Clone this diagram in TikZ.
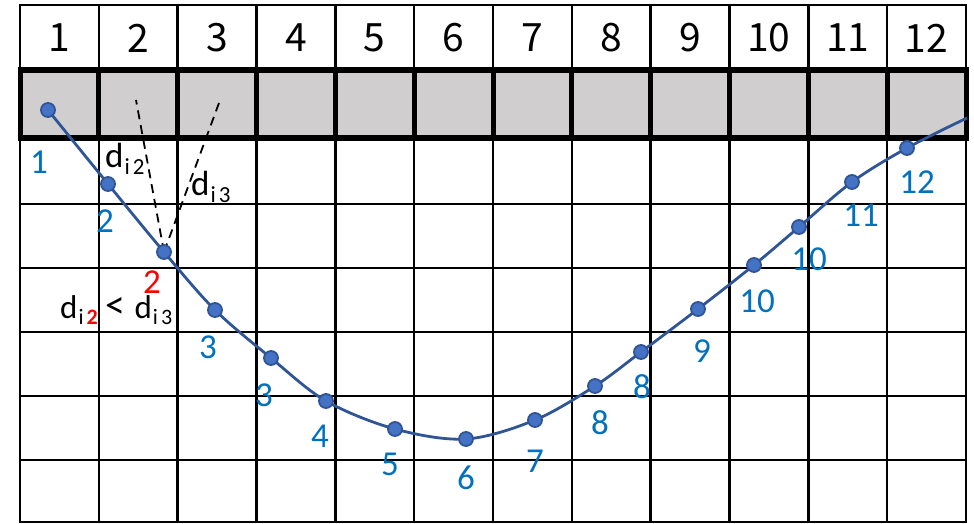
\documentclass[tikz,border=0pt]{standalone}
\usepackage{fontspec}
\setmainfont{Carlito}
\newfontfamily\hdrfont{Noto Sans CJK JP}
\definecolor{cellgray}{HTML}{D0CECE}
\definecolor{curveblue}{HTML}{2F5597}
\definecolor{dotblue}{HTML}{4472C4}
\definecolor{labblue}{HTML}{0070C0}
\begin{document}
\begin{tikzpicture}[x=1pt,y=-1pt,
  gridthin/.style={line width=2.6pt,black},
  gridthick/.style={line width=6pt,black},
  hdr/.style={font=\hdrfont\fontsize{39}{44}\selectfont,inner sep=0pt},
  lab/.style={font=\fontsize{35}{38}\selectfont,text=labblue,inner sep=0pt},
  redlab/.style={font=\fontsize{35}{38}\selectfont,text=red,inner sep=0pt},
  dlab/.style={font=\fontsize{35}{38}\selectfont,inner sep=0pt},
  dot/.style={circle,fill=dotblue,draw=curveblue,line width=1.8pt,minimum size=14pt,inner sep=0pt},
  curve/.style={curveblue,line width=2.8pt},
  guide/.style={black,line width=1.8pt,dash pattern=on 9pt off 6pt}]
\useasboundingbox (0,0) rectangle (974,524);
\def\cw{78.833}
% gray row
\fill[cellgray] (20,70) rectangle (966,138);
% vertical lines
\foreach \i in {0,...,12}{
  \draw[gridthin] ({20+\i*\cw},5) -- ({20+\i*\cw},70);
  \draw[line width=5pt] ({20+\i*\cw},70) -- ({20+\i*\cw},138);
  \draw[gridthin] ({20+\i*\cw},138) -- ({20+\i*\cw},522);
}
% horizontal lines
\foreach \y in {5,204,268,332,396,460,522}{
  \draw[gridthin] (18.7,\y) -- (967.3,\y);
}
\draw[gridthick] (17.5,70) -- (968.5,70);
\draw[gridthick] (17.5,138) -- (968.5,138);
% header numbers
\foreach \i in {1,...,12}{
  \node[hdr] (h\i) at ({20+(\i-0.5)*\cw},38) {\i};
}
% curve points
\coordinate (c1) at (48,110);
\coordinate (c2) at (108,184);
\coordinate (c3) at (164,252);
\coordinate (c4) at (215,310);
\coordinate (c5) at (271,358);
\coordinate (c6) at (326,401);
\coordinate (c7) at (395,429);
\coordinate (c8) at (466,439);
\coordinate (c9) at (535,420);
\coordinate (c10) at (595,386);
\coordinate (c11) at (641,352);
\coordinate (c12) at (698,309);
\coordinate (c13) at (754,265);
\coordinate (c14) at (799,227);
\coordinate (c15) at (852,182);
\coordinate (c16) at (907,148);
\coordinate (cend) at (967,118);
% dashed guides
\coordinate (g2) at (136,100);
\coordinate (g3) at (219,103);
\draw[guide] (c3) -- (g2);
\draw[guide] (c3) -- (g3);
% curve
\draw[curve] plot[smooth,tension=0.55] coordinates {(c1) (c2) (c3) (c4) (c5) (c6) (c7) (c8) (c9) (c10) (c11) (c12) (c13) (c14) (c15) (c16) (cend)};
\foreach \i in {1,...,16}{
  \node[dot] (p\i) at (c\i) {};
}
% blue labels
\node[lab] (l1) at (39,162) {1};
\node[lab] (l2) at (105,221) {2};
\node[redlab] (l3) at (152,282) {2};
\node[lab] (l4) at (208,347) {3};
\node[lab] (l5) at (264,395) {3};
\node[lab] (l6) at (320,436) {4};
\node[lab] (l7) at (390,464) {5};
\node[lab] (l8) at (466,478) {6};
\node[lab] (l9) at (535,461) {7};
\node[lab] (l10) at (600,423) {8};
\node[lab] (l11) at (642,387) {8};
\node[lab] (l12) at (702,351) {9};
\node[lab] (l13) at (757,301) {10};
\node[lab] (l14) at (809,259) {10};
\node[lab] (l15) at (861,215) {11};
\node[lab] (l16) at (917,182) {12};
% distance labels
\node[dlab,anchor=base west] (di2) at (105,167) {d\kern1pt\raisebox{-0.2em}{\fontsize{23}{24}\selectfont i\kern3pt 2}};
\node[dlab,anchor=base west] (di3) at (191,195) {d\kern1pt\raisebox{-0.2em}{\fontsize{23}{24}\selectfont i\kern3pt 3}};
\node[dlab,anchor=base west,font=\fontsize{33}{34}\selectfont] (cmp) at (60,318) {d\kern1pt\raisebox{-0.2em}{\fontsize{22}{22}\selectfont i\kern3pt\textcolor{red}{\bfseries 2}}\kern8pt{\fontsize{40}{40}\selectfont <}\kern9pt d\kern1pt\raisebox{-0.2em}{\fontsize{22}{22}\selectfont i\kern3pt 3}};
\end{tikzpicture}
\end{document}
